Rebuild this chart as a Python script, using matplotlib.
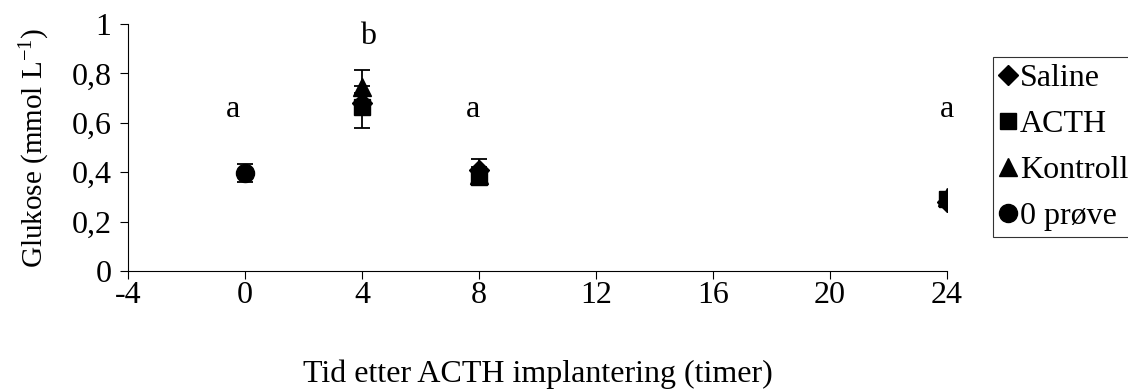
import numpy as np
import matplotlib.pyplot as plt
from matplotlib.lines import Line2D

plt.rcParams['font.family'] = ['Liberation Serif', 'DejaVu Serif']
plt.rcParams['axes.unicode_minus'] = False
plt.rcParams['mathtext.default'] = 'regular'

# data
saline_x = [4, 8, 24]
saline_y = [0.68, 0.41, 0.28]
saline_err = [0.04, 0.045, 0.02]

acth_x = [4, 8, 24]
acth_y = [0.665, 0.38, 0.29]
acth_err = [0.085, 0.03, 0.02]

kontroll_x = [4, 8, 24]
kontroll_y = [0.745, 0.39, 0.30]
kontroll_err = [0.07, 0.03, 0.02]

null_x = [0]
null_y = [0.397]
null_err = [0.037]

letter_x = [-0.4, 4.2, 7.8, 24]
letter_y = [0.655, 0.95, 0.655, 0.655]
letters = ['a', 'b', 'a', 'a']

fig = plt.figure(figsize=(11.28, 3.89), dpi=100)
ax = fig.add_axes([0.1135, 0.3033, 0.726, 0.635])

fs = 23
ms = 13
ekw = dict(ecolor='black', elinewidth=1.3, capsize=5.5, capthick=1.3, linestyle='none', color='black')
ax.errorbar(saline_x, saline_y, yerr=saline_err, marker='D', markersize=ms * 0.75, **ekw)
ax.errorbar(acth_x, acth_y, yerr=acth_err, marker='s', markersize=ms * 0.85, **ekw)
ax.errorbar(kontroll_x, kontroll_y, yerr=kontroll_err, marker='^', markersize=ms, **ekw)
ax.errorbar(null_x, null_y, yerr=null_err, marker='o', markersize=ms, **ekw)

for lx, ly, t in zip(letter_x, letter_y, letters):
    ax.text(lx, ly, t, ha='center', va='center', fontsize=fs)

ax.set_xlim(-4, 24)
ax.set_ylim(0, 1)
ax.set_xticks(np.arange(-4, 25, 4))
ax.set_yticks([0, 0.2, 0.4, 0.6, 0.8, 1])
ax.set_yticklabels(['0', '0,2', '0,4', '0,6', '0,8', '1'])
ax.spines['top'].set_visible(False)
ax.spines['right'].set_visible(False)
ax.tick_params(direction='out', length=6, labelsize=fs)
ax.tick_params(axis='x', pad=1)
ax.tick_params(axis='y', pad=6)
ax.set_xlabel('Tid etter ACTH implantering (timer)', fontsize=fs, labelpad=36)
ax.set_ylabel('Glukose (mmol L$^{-1}$)', fontsize=21, labelpad=14)

handles = [
    Line2D([], [], color='black', marker='D', markersize=ms * 0.75, linestyle='none'),
    Line2D([], [], color='black', marker='s', markersize=ms * 0.85, linestyle='none'),
    Line2D([], [], color='black', marker='^', markersize=ms, linestyle='none'),
    Line2D([], [], color='black', marker='o', markersize=ms, linestyle='none'),
]
labels = ['Saline', 'ACTH', 'Kontroll', '0 prøve']
leg = ax.legend(handles, labels, loc='upper left', bbox_to_anchor=(1.056, 0.866), fontsize=fs,
                frameon=True, fancybox=False, edgecolor='black', handlelength=0.55,
                handletextpad=0.1, borderpad=0.2, labelspacing=0.52, borderaxespad=0)
leg.get_frame().set_linewidth(0.8)

fig.savefig('out.png', dpi=100)
